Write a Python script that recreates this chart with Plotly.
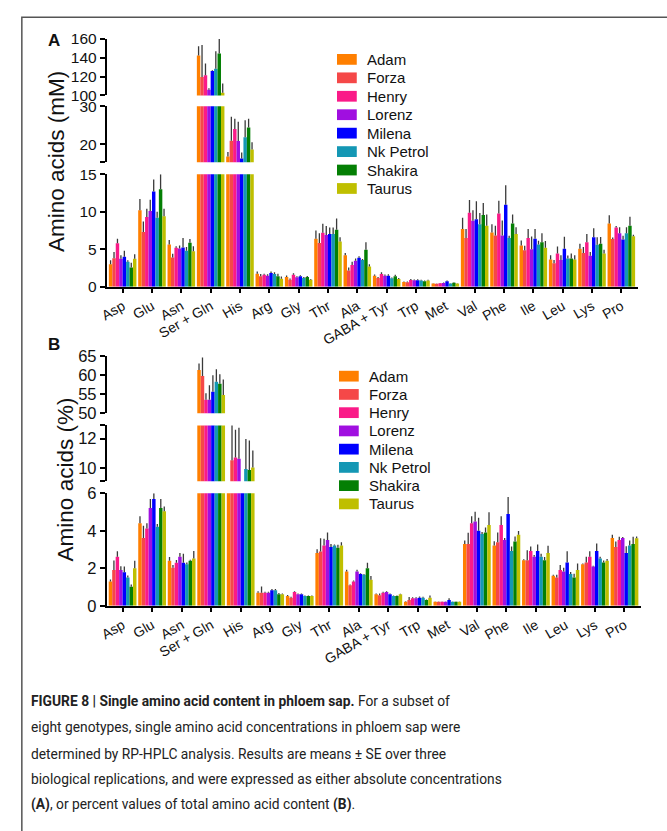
import plotly.graph_objects as go

W, H = 667, 831

amino_acids = ["Asp", "Glu", "Asn", "Ser + Gln", "His", "Arg", "Gly", "Thr", "Ala",
               "GABA + Tyr", "Trp", "Met", "Val", "Phe", "Ile", "Leu", "Lys", "Pro"]
genotypes = ["Adam", "Forza", "Henry", "Lorenz", "Milena", "Nk Petrol", "Shakira", "Taurus"]
colors = ["#FF7F00", "#F54848", "#FA1A88", "#A00FE0", "#0000FF", "#1497B4", "#047F04", "#BFBF00"]

# Panel A: absolute concentrations (mM), per genotype across amino_acids
conc_adam    = [3.0, 10.2, 5.65, 142.4, 16.7, 1.74, 1.3, 6.4, 4.2, 1.48, 0.65, 0.43, 7.7, 7.26, 5.52, 3.65, 5.09, 8.44]
conc_forza   = [3.8, 7.3, 3.9, 119.7, 20.9, 1.4, 0.95, 5.83, 2.17, 1.17, 0.6, 0.4, 6.5, 6.83, 4.87, 3.13, 4.52, 6.39]
conc_henry   = [5.8, 9.3, 5.2, 121.4, 24.0, 1.6, 1.6, 7.2, 2.9, 1.7, 0.91, 0.47, 9.87, 9.78, 6.52, 4.43, 5.96, 7.91]
conc_lorenz  = [3.75, 10.1, 5.1, 106.0, 20.8, 1.48, 1.27, 6.9, 3.48, 1.48, 0.87, 0.52, 8.8, 6.83, 5.0, 3.57, 4.13, 7.13]
conc_milena  = [4.0, 12.7, 5.25, 126.0, 16.2, 1.83, 1.4, 7.05, 3.87, 1.48, 0.87, 0.74, 9.0, 10.96, 6.4, 5.09, 6.61, 6.3]
conc_nkpetrol= [3.35, 9.2, 4.8, 128.4, 21.8, 1.7, 1.17, 7.05, 3.57, 1.13, 0.83, 0.43, 8.35, 6.5, 5.65, 3.78, 5.61, 7.13]
conc_shakira = [2.57, 13.0, 5.87, 144.5, 24.4, 1.4, 1.3, 7.6, 4.96, 1.4, 0.74, 0.56, 9.57, 8.44, 5.96, 3.78, 5.74, 8.13]
conc_taurus  = [3.75, 9.4, 4.75, 102.8, 18.6, 1.08, 0.95, 6.05, 2.7, 1.04, 0.83, 0.43, 8.13, 7.04, 5.2, 3.65, 4.43, 6.74]

se_conc_adam    = [0.55, 1.5, 0.6, 10.0, 1.2, 0.3, 0.2, 1.1, 0.3, 0.15, 0.05, 0.05, 1.5, 1.1, 0.65, 0.55, 0.65, 1.1]
se_conc_forza   = [0.85, 1.4, 0.5, 34.0, 6.3, 0.3, 0.15, 1.3, 0.4, 0.15, 0.1, 0.05, 1.2, 1.3, 0.6, 0.45, 0.8, 0.2]
se_conc_henry   = [0.6, 1.1, 0.2, 12.6, 2.7, 0.15, 0.2, 1.2, 0.45, 0.25, 0.15, 0.05, 1.7, 1.7, 1.2, 0.95, 1.1, 0.2]
se_conc_lorenz  = [0.45, 1.5, 0.4, 1.5, 5.1, 0.2, 0.15, 1.2, 0.3, 0.15, 0.1, 0.05, 1.4, 2.0, 1.7, 0.65, 0.5, 0.8]
se_conc_milena  = [0.8, 1.6, 1.25, 0.7, 1.6, 0.2, 0.15, 0.85, 0.2, 0.2, 0.15, 0.1, 2.4, 2.6, 1.3, 1.6, 1.2, 0.5]
se_conc_nkpetrol= [0.2, 0.8, 0.5, 18.6, 4.5, 0.25, 0.15, 0.85, 0.15, 0.1, 0.1, 0.05, 1.5, 0.3, 0.5, 0.4, 1.0, 0.8]
se_conc_shakira = [0.65, 2.0, 0.5, 15.5, 2.3, 0.35, 0.15, 1.5, 1.0, 0.2, 0.1, 0.05, 1.6, 1.2, 1.2, 0.65, 0.9, 1.2]
se_conc_taurus  = [0.6, 1.0, 0.65, 9.8, 1.9, 0.3, 0.1, 0.55, 0.3, 0.15, 0.1, 0.05, 1.5, 0.9, 0.9, 0.55, 0.5, 0.2]

# Panel B: percent of total amino acid content
pct_adam    = [1.3, 4.4, 2.4, 61.4, 8.6, 0.7, 0.52, 2.82, 1.83, 0.61, 0.21, 0.21, 3.3, 3.22, 2.43, 1.6, 2.21, 3.62]
pct_forza   = [1.91, 3.62, 2.03, 59.8, 10.53, 0.7, 0.43, 2.9, 1.1, 0.56, 0.31, 0.21, 3.3, 3.39, 2.43, 1.51, 2.31, 3.13]
pct_henry   = [2.61, 4.12, 2.3, 53.6, 10.71, 0.7, 0.73, 3.22, 1.3, 0.7, 0.4, 0.21, 4.4, 4.31, 2.92, 1.91, 2.61, 3.51]
pct_lorenz  = [1.91, 5.22, 2.61, 53.6, 10.64, 0.7, 0.61, 3.51, 1.83, 0.73, 0.4, 0.21, 4.49, 3.51, 2.61, 1.83, 2.09, 3.62]
pct_milena  = [1.79, 5.7, 2.3, 55.7, 8.4, 0.83, 0.61, 3.13, 1.7, 0.61, 0.43, 0.31, 4.0, 4.9, 2.92, 2.31, 2.92, 2.82]
pct_nkpetrol= [1.51, 4.21, 2.21, 58.3, 9.93, 0.83, 0.52, 3.22, 1.65, 0.52, 0.43, 0.21, 3.83, 2.92, 2.61, 1.7, 2.52, 3.22]
pct_shakira = [1.01, 5.22, 2.4, 57.8, 9.87, 0.61, 0.52, 3.09, 2.0, 0.52, 0.31, 0.21, 3.91, 3.43, 2.43, 1.51, 2.31, 3.3]
pct_taurus  = [2.0, 5.04, 2.52, 54.8, 10.04, 0.61, 0.52, 3.22, 1.39, 0.61, 0.43, 0.21, 4.31, 3.79, 2.82, 1.91, 2.4, 3.6]

se_pct_adam    = [0.1, 0.38, 0.2, 1.7, 0.3, 0.08, 0.05, 0.2, 0.09, 0.05, 0.03, 0.02, 0.18, 0.22, 0.05, 0.05, 0.05, 0.17]
se_pct_forza   = [0.5, 0.65, 0.14, 4.9, 2.4, 0.33, 0.05, 0.7, 0.03, 0.1, 0.16, 0.02, 0.6, 0.52, 0.53, 0.15, 0.3, 0.3]
se_pct_henry   = [0.3, 0.28, 0.14, 1.7, 1.9, 0.05, 0.05, 0.35, 0.05, 0.05, 0.05, 0.02, 0.38, 0.47, 0.24, 0.26, 0.3, 0.17]
se_pct_lorenz  = [0.2, 0.47, 0.2, 3.8, 2.1, 0.05, 0.05, 0.4, 0.09, 0.05, 0.05, 0.02, 0.52, 0.1, 0.1, 0.2, 0.05, 0.05]
se_pct_milena  = [0.3, 0.3, 0.48, 4.3, 0.3, 0.07, 0.05, 0.17, 0.03, 0.05, 0.07, 0.09, 0.7, 0.9, 0.35, 0.6, 0.4, 0.35]
se_pct_nkpetrol= [0.1, 0.15, 0.1, 3.3, 2.05, 0.07, 0.03, 0.05, 0.05, 0.03, 0.05, 0.02, 0.1, 0.24, 0.17, 0.1, 0.1, 0.26]
se_pct_shakira = [0.12, 0.47, 0.05, 2.5, 2.0, 0.07, 0.03, 0.17, 0.3, 0.03, 0.03, 0.02, 0.26, 0.26, 0.17, 0.2, 0.1, 0.38]
se_pct_taurus  = [0.4, 0.26, 0.4, 4.1, 1.15, 0.05, 0.03, 0.17, 0.2, 0.03, 0.12, 0.02, 0.68, 0.2, 0.38, 0.35, 0.1, 0.1]

conc = [conc_adam, conc_forza, conc_henry, conc_lorenz, conc_milena, conc_nkpetrol, conc_shakira, conc_taurus]
se_conc = [se_conc_adam, se_conc_forza, se_conc_henry, se_conc_lorenz, se_conc_milena, se_conc_nkpetrol, se_conc_shakira, se_conc_taurus]
pct = [pct_adam, pct_forza, pct_henry, pct_lorenz, pct_milena, pct_nkpetrol, pct_shakira, pct_taurus]
se_pct = [se_pct_adam, se_pct_forza, se_pct_henry, se_pct_lorenz, se_pct_milena, se_pct_nkpetrol, se_pct_shakira, se_pct_taurus]

FONT = "Liberation Sans, Arial, Helvetica, sans-serif"
CAPTION_FONT = "Roboto, Liberation Sans, sans-serif"


def px(x):
    return x / W


def py(y):
    return 1 - y / H


xpos = list(range(len(amino_acids)))
fig = go.Figure()

panels = [
    ("x", ["y", "y2", "y3"], conc, se_conc),
    ("x2", ["y4", "y5", "y6"], pct, se_pct),
]
for xa, yas, vals, errs in panels:
    for ya in yas:
        for g, name in enumerate(genotypes):
            fig.add_trace(go.Bar(
                x=xpos, y=vals[g], name=name, xaxis=xa, yaxis=ya,
                marker=dict(color=colors[g], line=dict(width=0)),
                error_y=dict(type="data", array=errs[g], arrayminus=[0] * len(xpos),
                             symmetric=False, color="#3a3a3a", thickness=1.3, width=0),
                showlegend=False, offsetgroup=str(g),
            ))

axis_common = dict(showline=True, linecolor="black", linewidth=2, ticks="outside",
                   ticklen=5, tickwidth=2, tickcolor="black", showgrid=False,
                   zeroline=False, fixedrange=True)

xa_common = dict(axis_common, tickvals=xpos, ticktext=amino_acids, tickangle=-30,
                 tickfont=dict(family=FONT, size=14, color="#111"), ticklen=4)

ya_font_A = dict(family=FONT, size=15.5, color="#111")
ya_font_B = dict(family=FONT, size=16.5, color="#111")

fig.update_layout(
    width=W, height=H, autosize=False, margin=dict(l=0, r=0, t=0, b=0, pad=0),
    paper_bgcolor="white", plot_bgcolor="white",
    barmode="group", bargap=0.06, bargroupgap=0,
    showlegend=False,
    xaxis=dict(xa_common, domain=[px(100), px(638)], range=[-0.54, 17.58], anchor="y"),
    yaxis=dict(axis_common, domain=[py(284), py(169)], range=[0, 15],
               tickvals=[0, 5, 10, 15], tickfont=ya_font_A, anchor="x"),
    yaxis2=dict(axis_common, domain=[py(156.7), py(99.3)], range=[15.2, 30],
                tickvals=[15.2, 20, 30], ticktext=["", "20", "30"], tickfont=ya_font_A, anchor="x"),
    yaxis3=dict(axis_common, domain=[py(88.3), py(30.7)], range=[100, 160],
                tickvals=[100, 120, 140, 160], tickfont=ya_font_A, anchor="x"),
    xaxis2=dict(xa_common, domain=[px(100), px(640.7)], range=[-0.535, 17.56], anchor="y4"),
    yaxis4=dict(axis_common, domain=[py(610), py(495)], range=[0, 6],
                tickvals=[0, 2, 4, 6], tickfont=ya_font_B, anchor="x2"),
    yaxis5=dict(axis_common, domain=[py(482.7), py(425.7)], range=[9.1, 12.9],
                tickvals=[9.1, 10, 12, 12.9], ticktext=["", "10", "12", ""], tickfont=ya_font_B, anchor="x2"),
    yaxis6=dict(axis_common, domain=[py(413.3), py(355)], range=[50, 65],
                tickvals=[50, 55, 60, 65], tickfont=ya_font_B, anchor="x2"),
)

shapes = []
annotations = []

# outer frame (extends past the right and bottom edges)
shapes.append(dict(type="rect", xref="paper", yref="paper", x0=px(14), x1=px(720),
                   y0=py(900), y1=py(8.5), line=dict(color="#555", width=1.5), fillcolor="rgba(0,0,0,0)"))

# manual legends
for (x_sw, y0, dy) in [(333, 51.5, 18.85), (335, 375.3, 18.65)]:
    for g, name in enumerate(genotypes):
        yc = y0 + g * dy
        shapes.append(dict(type="rect", xref="paper", yref="paper",
                           x0=px(x_sw), x1=px(x_sw + 20), y0=py(yc + 5.5), y1=py(yc - 5.5),
                           fillcolor=colors[g], line=dict(width=0)))
        annotations.append(dict(xref="paper", yref="paper", x=px(x_sw + 28), y=py(yc),
                                xanchor="left", yanchor="middle", showarrow=False, text=name,
                                font=dict(family=FONT, size=15, color="#111")))

# axis titles
annotations.append(dict(xref="paper", yref="paper", x=px(49), y=py(156), textangle=-90,
                        xanchor="center", yanchor="middle", showarrow=False,
                        text="Amino acids (mM)", font=dict(family=FONT, size=22.5, color="#111")))
annotations.append(dict(xref="paper", yref="paper", x=px(58), y=py(480.5), textangle=-90,
                        xanchor="center", yanchor="middle", showarrow=False,
                        text="Amino acids (%)", font=dict(family=FONT, size=22.5, color="#111")))

# panel letters
annotations.append(dict(xref="paper", yref="paper", x=px(46.5), y=py(32), xanchor="center",
                        yanchor="middle", showarrow=False, text="<b>A</b>",
                        font=dict(family=FONT, size=17, color="#111")))
annotations.append(dict(xref="paper", yref="paper", x=px(46.5), y=py(343), xanchor="center",
                        yanchor="middle", showarrow=False, text="<b>B</b>",
                        font=dict(family=FONT, size=17, color="#111")))

# caption
caption_lines = [
    "<b>FIGURE 8 | Single amino acid content in phloem sap.</b> For a subset of",
    "eight genotypes, single amino acid concentrations in phloem sap were",
    "determined by RP-HPLC analysis. Results are means \u00b1 SE over three",
    "biological replications, and were expressed as either absolute concentrations",
    "<b>(A)</b>, or percent values of total amino acid content <b>(B)</b>.",
]
caption_y = [707, 734, 761, 787.5, 813]
for t, yc in zip(caption_lines, caption_y):
    annotations.append(dict(xref="paper", yref="paper", x=px(21), y=py(yc), xanchor="left",
                            yanchor="middle", showarrow=False, text=t,
                            font=dict(family=CAPTION_FONT, size=13.8, color="#222")))

fig.update_layout(shapes=shapes, annotations=annotations)

fig.write_html("out.html", config={"displayModeBar": False},
               post_script="document.body.style.margin='0px';document.body.style.padding='0px';document.body.style.overflow='hidden';")
